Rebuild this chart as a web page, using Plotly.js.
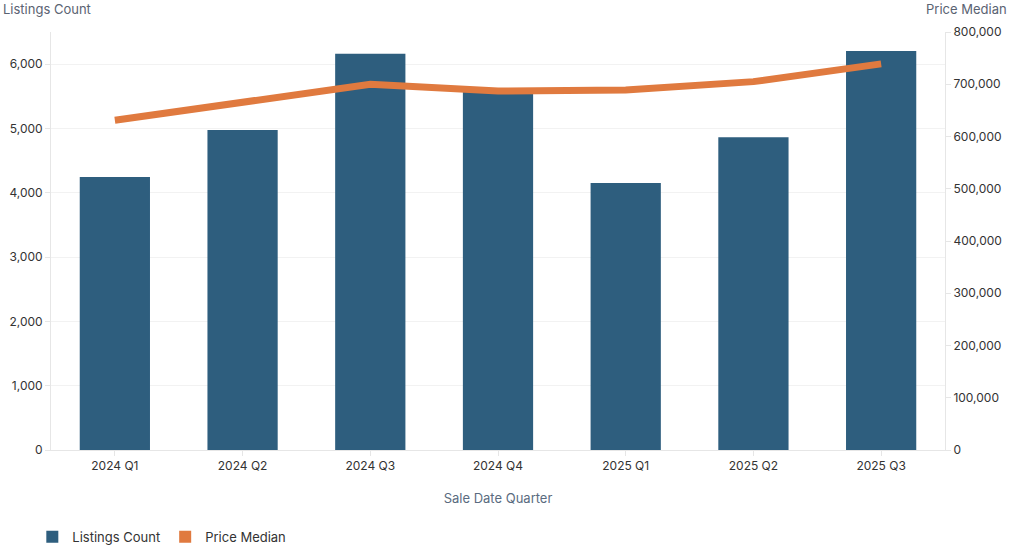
<!DOCTYPE html>
<html><head><meta charset="utf-8">
<script src="https://cdn.plot.ly/plotly-3.0.1.min.js"></script>
<style>html,body{margin:0;padding:0;background:#fff}#chart{width:1010px;height:549px}</style>
</head><body><div id="chart"></div>
<script>
const categories = ["2024 Q1","2024 Q2","2024 Q3","2024 Q4","2025 Q1","2025 Q2","2025 Q3"];
const listingsCount = [4245, 4975, 6160, 5620, 4150, 4865, 6205];
const priceMedian = [631000, 666000, 700000, 687000, 689000, 705000, 739000];

const barColor = "#2e5e7e";
const lineColor = "#e07a3f";
const font = "Inter, 'Noto Sans', sans-serif";

const traces = [
  {type:"bar", name:"Listings Count", x:categories, y:listingsCount, marker:{color:barColor}, yaxis:"y", hoverinfo:"x+y"},
  {type:"scatter", mode:"lines", name:"Price Median", x:categories, y:priceMedian, yaxis:"y2", line:{color:lineColor, width:7}, showlegend:false},
  {type:"bar", name:"Price Median", x:[categories[0]], y:[0], marker:{color:lineColor, line:{width:0}}, yaxis:"y2", hoverinfo:"skip"}
];

const layout = {
  width:1010, height:549,
  margin:{l:51, r:65, t:32, b:99, autoexpand:false},
  paper_bgcolor:"#fff", plot_bgcolor:"#fff",
  font:{family:font, size:12, color:"#333"},
  barmode:"overlay", bargap:0.45,
  showlegend:true,
  legend:{orientation:"h", xref:"container", yref:"container", x:0.032, xanchor:"left", y:0.022, yanchor:"middle", font:{size:13, color:"#333"}, traceorder:"normal"},
  xaxis:{type:"category", showgrid:false, showline:true, linecolor:"#e6e6e6", ticks:"outside", ticklen:5, tickcolor:"#e6e6e6",
    tickfont:{size:12, color:"#333"}, automargin:false,
    title:{text:"Sale Date Quarter", font:{size:13, color:"#5a6b80"}, standoff:21}},
  yaxis:{range:[0,6500], tickvals:[0,1000,2000,3000,4000,5000,6000], tickformat:",d", showgrid:true, gridcolor:"#f2f2f2",
    showline:true, linecolor:"#e6e6e6", ticks:"outside", ticklen:5, tickcolor:"#e6e6e6", zeroline:false, automargin:false,
    tickfont:{size:12, color:"#333"}},
  yaxis2:{range:[0,800000], overlaying:"y", side:"right", tickvals:[0,100000,200000,300000,400000,500000,600000,700000,800000], tickformat:",d",
    showgrid:false, showline:true, linecolor:"#e6e6e6", ticks:"outside", ticklen:5, tickcolor:"#e6e6e6", zeroline:false, automargin:false,
    tickfont:{size:12, color:"#333"}},
  annotations:[
    {text:"Listings Count", xref:"paper", yref:"paper", x:-0.056, y:1.056, xanchor:"left", yanchor:"middle", showarrow:false, font:{size:13, color:"#5a6372"}},
    {text:"Price Median", xref:"paper", yref:"paper", x:1.072, y:1.056, xanchor:"right", yanchor:"middle", showarrow:false, font:{size:13, color:"#5a6372"}}
  ]
};

Plotly.newPlot("chart", traces, layout, {displayModeBar:false, staticPlot:true});
</script></body></html>
